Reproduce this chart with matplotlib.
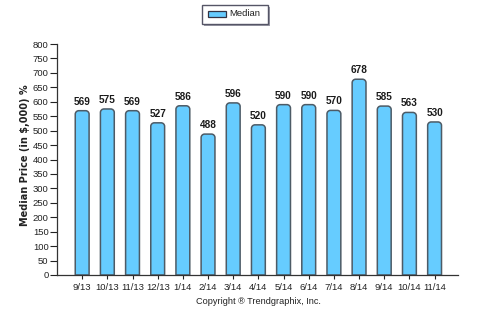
import matplotlib
matplotlib.use("Agg")
import matplotlib.pyplot as plt
from matplotlib.path import Path
from matplotlib.patches import PathPatch, Rectangle
from matplotlib import font_manager

months = ["9/13", "10/13", "11/13", "12/13", "1/14", "2/14", "3/14", "4/14",
          "5/14", "6/14", "7/14", "8/14", "9/14", "10/14", "11/14"]
median = [569, 575, 569, 527, 586, 488, 596, 520, 590, 590, 570, 678, 585, 563, 530]
yticks = list(range(0, 801, 50))

FILL = "#66CCFF"
EDGE = "#4d5b66"

names = {f.name for f in font_manager.fontManager.ttflist}
NARROW = ["Liberation Sans Narrow", "DejaVu Sans"] if "Liberation Sans Narrow" in names \
    else ["Liberation Sans", "DejaVu Sans"]

fig = plt.figure(figsize=(4.81, 3.26), dpi=100)
ax = fig.add_axes([57 / 481, 1 - 275 / 326, (458 - 57) / 481, (275 - 44) / 326])

x = list(range(len(months)))
bars = ax.bar(x, median, width=0.55, color=FILL, edgecolor=EDGE, linewidth=1.1)
ax.set_xlim(-1.0, 14.93)
ax.set_ylim(0, 800)

# Replace the plain rectangles with bars that have rounded top corners
fig.canvas.draw()
px_x = (ax.get_xlim()[1] - ax.get_xlim()[0]) / ax.bbox.width
px_y = (ax.get_ylim()[1] - ax.get_ylim()[0]) / ax.bbox.height
rx, ry = 3.5 * px_x, 3.5 * px_y
k = 0.5523
for b in bars:
    x0, w, h = b.get_x(), b.get_width(), b.get_height()
    x1 = x0 + w
    verts = [(x0, 0), (x0, h - ry),
             (x0, h - ry + k * ry), (x0 + rx - k * rx, h), (x0 + rx, h),
             (x1 - rx, h),
             (x1 - rx + k * rx, h), (x1, h - ry + k * ry), (x1, h - ry),
             (x1, 0), (x0, 0)]
    codes = [Path.MOVETO, Path.LINETO,
             Path.CURVE4, Path.CURVE4, Path.CURVE4,
             Path.LINETO,
             Path.CURVE4, Path.CURVE4, Path.CURVE4,
             Path.LINETO, Path.CLOSEPOLY]
    ax.add_patch(PathPatch(Path(verts, codes), facecolor=FILL, edgecolor=EDGE,
                           linewidth=1.1, zorder=2))
    b.set_visible(False)
    ax.text(b.get_x() + w / 2, h + 14, f"{h:g}", ha="center", va="bottom",
            fontsize=7.2, fontweight="bold", color="#1a1a1a", family=NARROW)

ax.set_xticks(x)
ax.set_xticklabels(months)
ax.set_yticks(yticks)
for lab in ax.get_xticklabels() + ax.get_yticklabels():
    lab.set_family(NARROW)
ax.tick_params(axis="both", labelsize=6.8, colors="#222222", width=0.8)
ax.tick_params(axis="y", length=5, pad=1)
ax.tick_params(axis="x", length=3, pad=2.5)
for s in ("top", "right"):
    ax.spines[s].set_visible(False)
for s in ("left", "bottom"):
    ax.spines[s].set_color("#333333")
    ax.spines[s].set_linewidth(0.9)

ax.set_ylabel("Median Price (in $,000) %", fontsize=7, fontweight="bold",
              color="#222222", family="DejaVu Sans")
ax.yaxis.set_label_coords(-27 / 401, 0.52)

fig.text(258 / 481, 1 - 302 / 326, "Copyright \u00ae Trendgraphix, Inc.",
         ha="center", va="center", fontsize=6.6, color="#222222", family=NARROW)

# Legend box with a small drop shadow
lx0, ly0, lw, lh = 202, 5, 66, 19
fig.add_artist(Rectangle(((lx0 + 2) / 481, 1 - (ly0 + lh + 2) / 326), lw / 481, lh / 326,
                         transform=fig.transFigure, facecolor="#9a9aa6",
                         edgecolor="none", zorder=5))
fig.add_artist(Rectangle((lx0 / 481, 1 - (ly0 + lh) / 326), lw / 481, lh / 326,
                         transform=fig.transFigure, facecolor="white",
                         edgecolor="#555566", linewidth=1.0, zorder=6))
fig.add_artist(Rectangle((208 / 481, 1 - 17 / 326), 18 / 481, 6 / 326,
                         transform=fig.transFigure, facecolor=FILL,
                         edgecolor="#333344", linewidth=0.9, zorder=7))
fig.text(229 / 481, 1 - 14 / 326, "Median", ha="left", va="center",
         fontsize=6.8, color="#222222", family=NARROW, zorder=7)

fig.savefig("out.png", dpi=100)
